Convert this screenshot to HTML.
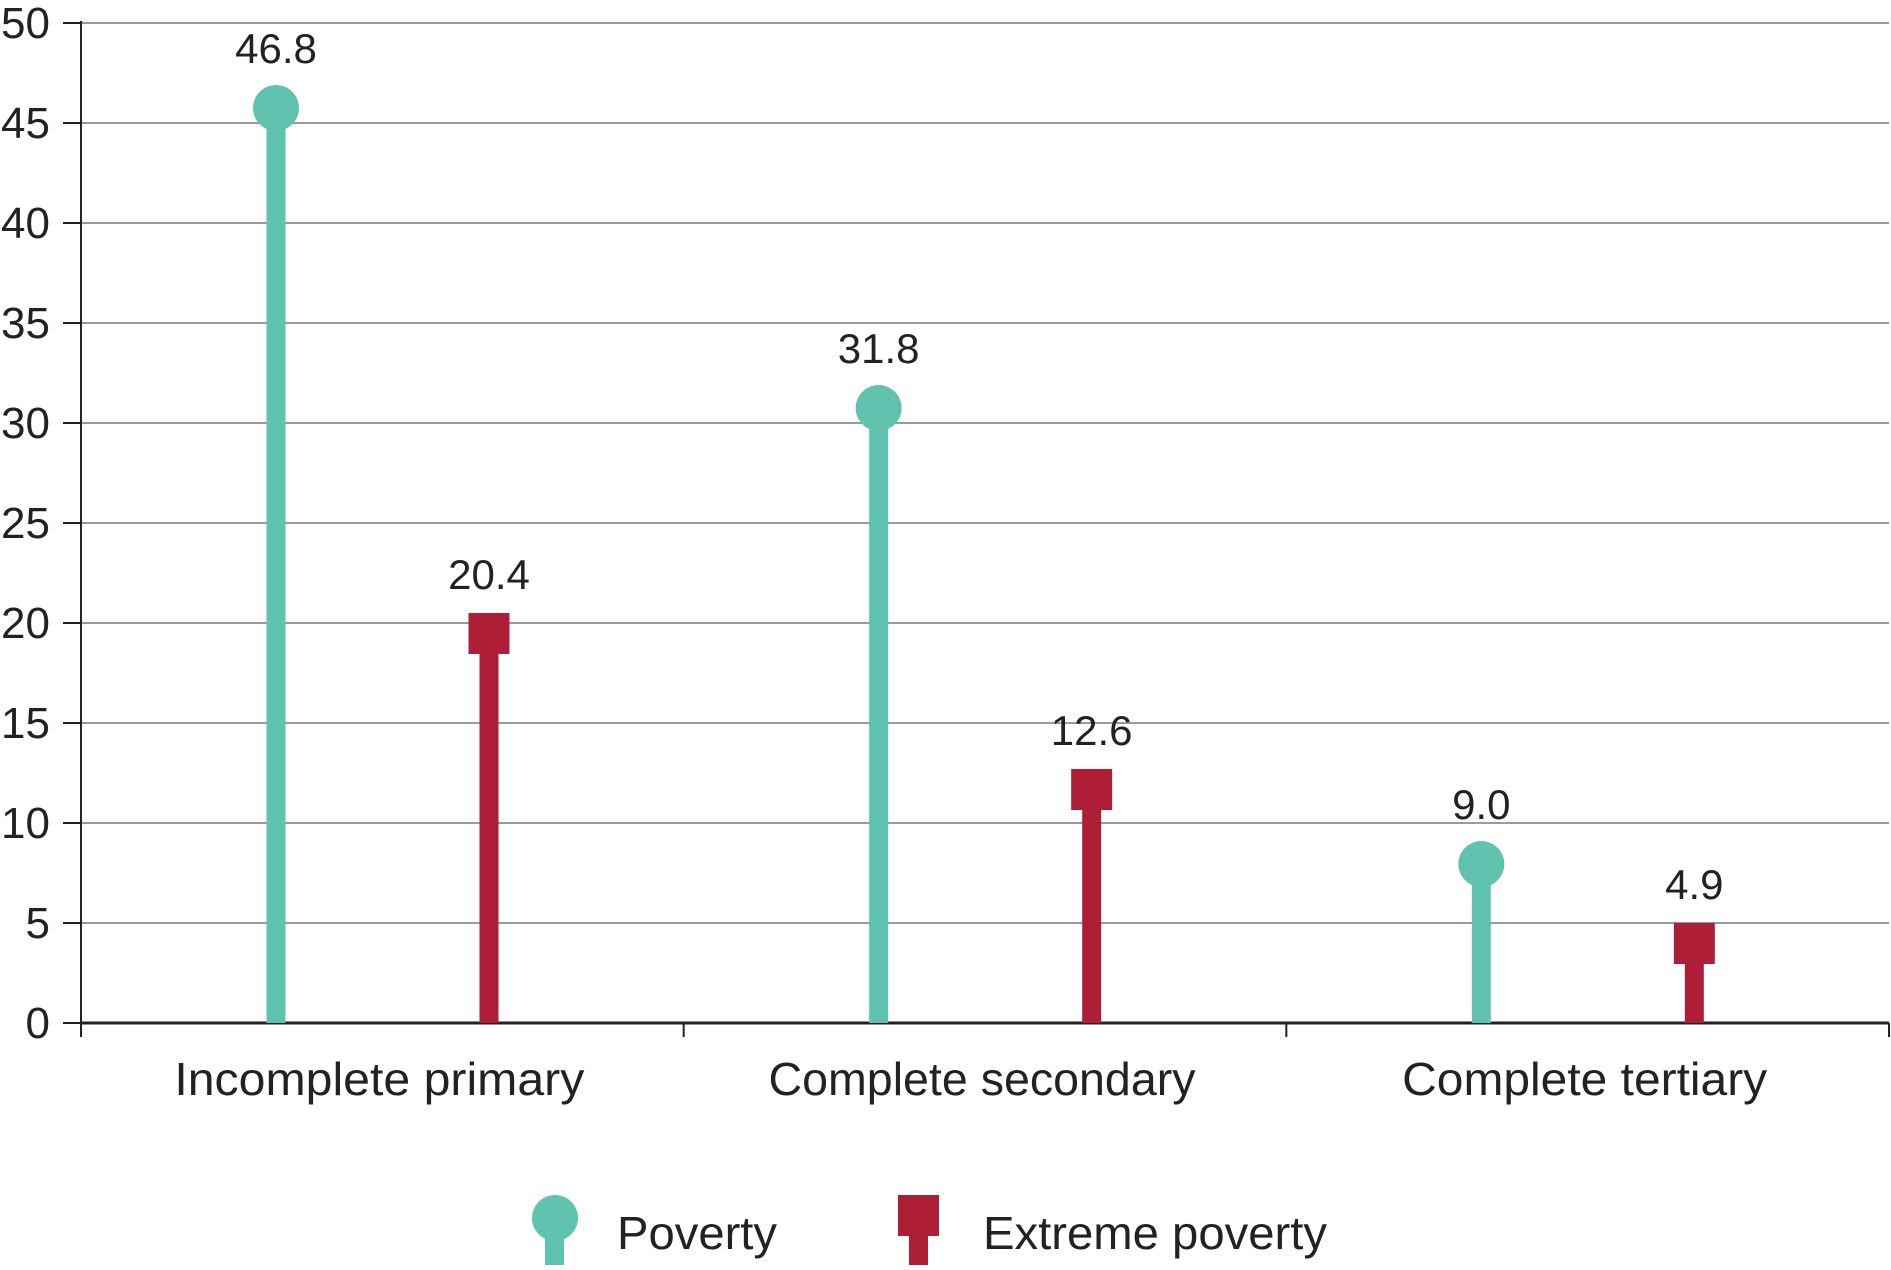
<!DOCTYPE html>
<html><head><meta charset="utf-8"><style>
html,body{margin:0;padding:0;background:#fff;}
svg{display:block;font-family:"Liberation Sans",sans-serif;}
</style></head><body>
<svg id="chart" width="1891" height="1270" viewBox="0 0 1891 1270">
<g id="grid"></g>
<g id="yaxis"></g>
<g id="xaxis"></g>
<g id="marks"></g>
<g id="legend">
  <g>
    <rect x="545" y="1220" width="19" height="45" fill="#5fc3af"/>
    <circle cx="555" cy="1218" r="23" fill="#5fc3af"/>
    <text x="617" y="1249" font-size="46" fill="#222" textLength="160" lengthAdjust="spacingAndGlyphs">Poverty</text>
  </g>
  <g>
    <rect x="909" y="1220" width="19" height="45" fill="#ae1f37"/>
    <rect x="898" y="1195" width="41" height="41" fill="#ae1f37"/>
    <text x="983" y="1249" font-size="46" fill="#222" textLength="344" lengthAdjust="spacingAndGlyphs">Extreme poverty</text>
  </g>
</g>
</svg>
<script>
const categories = ["Incomplete primary","Complete secondary","Complete tertiary"];
const poverty = [46.8, 31.8, 9.0];
const extremePoverty = [20.4, 12.6, 4.9];
const yTicks = [0,5,10,15,20,25,30,35,40,45,50];
const catLabelWidths = [410, 427, 365];

const NS="http://www.w3.org/2000/svg";
const X0=81, X1=1889, Y0=1023, Y50=23, YMAX=50;
const groupW=(X1-X0)/categories.length;
function y(v){return Y0-(v/YMAX)*(Y0-Y50);}
function xPov(i){return X0+i*groupW+195;}
function xExt(i){return X0+i*groupW+408;}
function mk(tag,attrs,parent){const e=document.createElementNS(NS,tag);for(const k in attrs)e.setAttribute(k,attrs[k]);parent.appendChild(e);return e;}
const grid=document.getElementById('grid'),yaxis=document.getElementById('yaxis'),xaxis=document.getElementById('xaxis'),marks=document.getElementById('marks');

yTicks.forEach(t=>{
  if(t>0){const l=mk('line',{x1:X0,x2:X1,y1:y(t),y2:y(t),stroke:'#9a9a9a','stroke-width':2},grid);
  
  }
  const tk=mk('line',{x1:63,x2:X0,y1:y(t),y2:y(t),stroke:'#222','stroke-width':2},yaxis);
  
  
  const tx=mk('text',{x:50,y:y(t)+15,'text-anchor':'end','font-size':44,fill:'#222'},yaxis);
  tx.textContent=t;
  
  
});
mk('line',{x1:X0,x2:X0,y1:Y50-2,y2:Y0,stroke:'#222','stroke-width':2},yaxis);
mk('line',{x1:X0,x2:X1,y1:Y0,y2:Y0,stroke:'#222','stroke-width':3},xaxis);
for(let i=0;i<=categories.length;i++){
  const gx=Math.min(X0+i*groupW,X1);
  mk('line',{x1:gx,x2:gx,y1:Y0,y2:Y0+14,stroke:'#222','stroke-width':2},xaxis);
}
categories.forEach((c,i)=>{
  const tx=mk('text',{x:X0+i*groupW+groupW/2-3,y:1095,'text-anchor':'middle','font-size':46,fill:'#222',textLength:catLabelWidths[i],lengthAdjust:'spacingAndGlyphs'},xaxis);
  tx.textContent=c;
  
  
});

function label(x,v,yy){
  const t=mk('text',{x:x,y:yy,'text-anchor':'middle','font-size':42,fill:'#222'},marks);
  t.textContent=v.toFixed(1);
  
  
}
poverty.forEach((v,i)=>{
  const x=xPov(i),yv=y(v);
  const s=mk('rect',{x:x-9.5,y:yv+23,width:19,height:Y0-yv-23,fill:'#5fc3af'},marks);
  
  
  const c=mk('circle',{cx:x,cy:yv+21,r:23,fill:'#5fc3af'},marks);
  
  
  label(x,v,yv-24);
});
extremePoverty.forEach((v,i)=>{
  const x=xExt(i),yv=y(v);
  const s=mk('rect',{x:x-9.5,y:yv+20,width:19,height:Y0-yv-20,fill:'#ae1f37'},marks);
  
  
  const r=mk('rect',{x:x-20.5,y:yv-2,width:41,height:41,fill:'#ae1f37'},marks);
  
  
  label(x,v,yv-26);
});
</script>
</body></html>
